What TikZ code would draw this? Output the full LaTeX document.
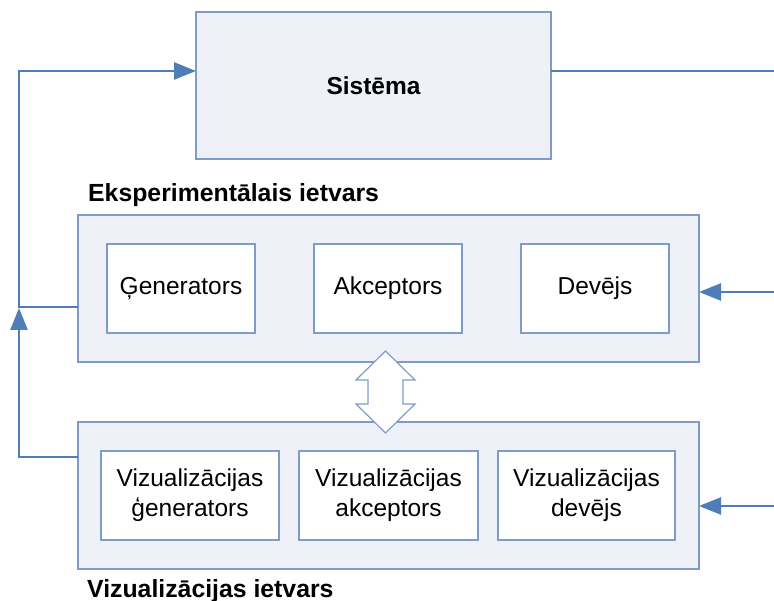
\documentclass[tikz,border=0pt]{standalone}
\usepackage{fontspec}
\setmainfont{Liberation Sans}
\usetikzlibrary{arrows.meta,calc}
\definecolor{frameblue}{HTML}{7F9CC9}
\definecolor{linkblue}{HTML}{4F7DB8}
\definecolor{panel}{HTML}{EEF1F7}
\begin{document}
\begin{tikzpicture}[x=1pt,y=-1pt,
  box/.style={draw=frameblue, line width=1.2pt, inner sep=0pt, outer sep=0pt},
  panelbox/.style={box, fill=panel, minimum width=621pt, minimum height=147pt},
  unit/.style={box, fill=white, align=center, font=\fontsize{24.5}{30}\selectfont,
    minimum height=89pt},
  link/.style={draw=linkblue, line width=2.6pt},
  tip/.style={-{Triangle[length=22pt,width=17pt]}},
  caption/.style={font=\bfseries\fontsize{24.8}{30}\selectfont, anchor=base west, inner sep=0pt}]
\useasboundingbox (0,0) rectangle (774,601);

% system block
\node[box, fill=panel, minimum width=355pt, minimum height=147pt,
  font=\bfseries\fontsize{24.5}{30}\selectfont] (sys) at (373.5,85.5) {Sistēma};

% experimental frame
\node[panelbox] (exp) at (388.5,288.5) {};
\node[caption] (expcap) at (88,202) {Eksperimentālais ietvars};
\node[unit, minimum width=148pt] (gen) at (181,288.5) {Ģenerators};
\node[unit, minimum width=148pt] (acc) at (388,288.5) {Akceptors};
\node[unit, minimum width=148pt] (dev) at (595,288.5) {Devējs};

% visualisation frame
\node[panelbox] (viz) at (388.5,495.5) {};
\node[caption] (vizcap) at (87,597) {Vizualizācijas ietvars};
\node[unit, minimum width=178pt] (vgen) at (190,495.5) {Vizualizācijas\\ģenerators};
\node[unit, minimum width=179pt] (vacc) at (388.5,495.5) {Vizualizācijas\\akceptors};
\node[unit, minimum width=177pt] (vdev) at (586.5,495.5) {Vizualizācijas\\devējs};

% connection points
\coordinate (expout) at (78,307);
\coordinate (vizout) at (78,457);
\coordinate (sysin) at (196,71);
\coordinate (sysout) at (551,71);
\coordinate (bus) at (19,0);
\coordinate (merge) at (19,308);
\coordinate (edgetop) at (774,71);
\coordinate (devin) at (699,292);
\coordinate (vdevin) at (699,506);

% feedback loops on the left
\draw[link, tip] (expout) -- (expout -| bus) -- (sysin -| bus) -- (sysin);
\draw[link, tip] (vizout) -- (vizout -| bus) -- (merge);

% lines on the right
\draw[link] (sysout) -- (edgetop);
\draw[link, tip] (devin -| edgetop) -- (devin);
\draw[link, tip] (vdevin -| edgetop) -- (vdevin);

% two-way exchange between the frames
\coordinate (mid) at (385.5,392);
\draw[draw=frameblue, line width=1.2pt, fill=white, line join=miter]
  ($(mid)+(0,-41)$) -- ($(mid)+(29.5,-12)$) -- ($(mid)+(17.5,-12)$) --
  ($(mid)+(17.5,12)$) -- ($(mid)+(29.5,12)$) -- ($(mid)+(0,41)$) --
  ($(mid)+(-29.5,12)$) -- ($(mid)+(-17.5,12)$) -- ($(mid)+(-17.5,-12)$) --
  ($(mid)+(-29.5,-12)$) -- cycle;
\end{tikzpicture}
\end{document}
